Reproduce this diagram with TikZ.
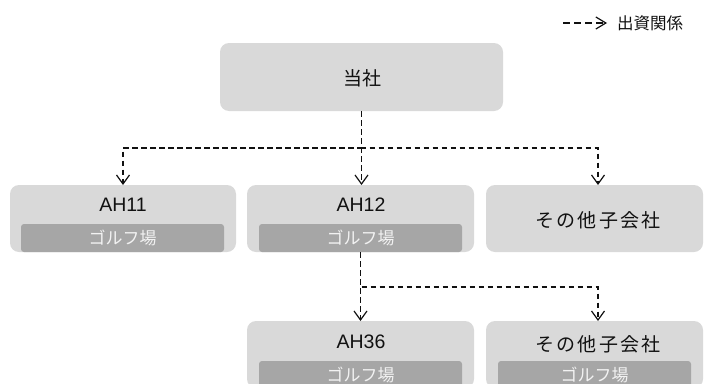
\documentclass[tikz,border=0pt]{standalone}
\usepackage{fontspec}
\setmainfont{Liberation Sans}
\newfontfamily\jp{Noto Sans CJK JP}
\newfontfamily\jpw[LetterSpace=11]{Noto Sans CJK JP}
\usetikzlibrary{arrows.meta}
\definecolor{boxgray}{HTML}{D9D9D9}
\definecolor{bargray}{HTML}{A6A6A6}
\definecolor{bartext}{HTML}{F2F2F2}
\definecolor{ink}{HTML}{111111}
\begin{document}
\begin{tikzpicture}[x=1pt,y=-1pt,
  box/.style={fill=boxgray, rounded corners=9pt, inner sep=0pt, outer sep=0pt, anchor=north west},
  bar/.style={fill=bargray, rounded corners=3pt, inner sep=0pt, outer sep=0pt, anchor=north west},
  lbl/.style={font=\fontsize{19.5}{19.5}\selectfont, text=ink, inner sep=0pt},
  jlbl/.style={font=\jp\fontsize{19}{19}\selectfont, text=ink, inner sep=0pt},
  jwlbl/.style={font=\jpw\fontsize{19}{19}\selectfont, text=ink, inner sep=0pt},
  barlbl/.style={font=\jp\fontsize{17}{17}\selectfont, text=bartext, inner sep=0pt},
  conn/.style={draw=ink, line width=1.2pt, dash pattern=on 5.5pt off 3.5pt,
    -{Straight Barb[length=9pt,width=13pt,line width=1.2pt]}},
  legconn/.style={draw=ink, line width=1.2pt, dash pattern=on 7pt off 4pt,
    -{Straight Barb[length=10pt,width=12pt,line width=1.2pt]}}]
\useasboundingbox (0,0) rectangle (704,383);

% legend
\coordinate (lg1) at (563,23);
\coordinate (lg2) at (607,23);
\draw[legconn] (lg1) -- (lg2);
\node[anchor=west, font=\jp\fontsize{16.5}{16.5}\selectfont, text=ink, inner sep=0pt] (legtxt) at (617,23) {出資関係};

% top
\node[box, minimum width=283pt, minimum height=68pt] (top) at (220,43) {};
\node[jlbl] (toptxt) at (362,78) {当社};

% row 2
\node[box, minimum width=226pt, minimum height=67pt] (ah11) at (10,185) {};
\node[bar, minimum width=203pt, minimum height=28pt] (ah11bar) at (21,224) {};
\node[lbl] (ah11txt) at (123,205) {AH11};
\node[barlbl] (ah11btxt) at (122.5,238) {ゴルフ場};

\node[box, minimum width=227pt, minimum height=67pt] (ah12) at (247,185) {};
\node[bar, minimum width=203pt, minimum height=28pt] (ah12bar) at (259,224) {};
\node[lbl] (ah12txt) at (361,205) {AH12};
\node[barlbl] (ah12btxt) at (360.5,238) {ゴルフ場};

\node[box, minimum width=217pt, minimum height=67pt] (ot1) at (486,185) {};
\node[jwlbl] (ot1txt) at (598,220) {その他子会社};
\coordinate (ot1tip) at (598,185);

% row 3
\node[box, minimum width=227pt, minimum height=67pt] (ah36) at (247,321) {};
\node[bar, minimum width=203pt, minimum height=28pt] (ah36bar) at (259,361) {};
\node[lbl] (ah36txt) at (361,342) {AH36};
\node[barlbl] (ah36btxt) at (360.5,375) {ゴルフ場};

\node[box, minimum width=217pt, minimum height=67pt] (ot2) at (486,321) {};
\node[bar, minimum width=193pt, minimum height=28pt] (ot2bar) at (498,361) {};
\node[jwlbl] (ot2txt) at (598,344) {その他子会社};
\node[barlbl] (ot2btxt) at (594.5,375) {ゴルフ場};
\coordinate (ot2tip) at (598,321);

% connectors
\draw[conn] (top.south) -- ++(0,37) -| (ah11.north);
\draw[conn] (top.south) -- (top.south |- ah12.north);
\draw[conn] (top.south) -- ++(0,37) -| (ot1tip);
\draw[conn] (ah12.south) -- (ah36.north);
\draw[conn] (ah12.south) -- ++(0,35) -| (ot2tip);
\end{tikzpicture}
\end{document}
